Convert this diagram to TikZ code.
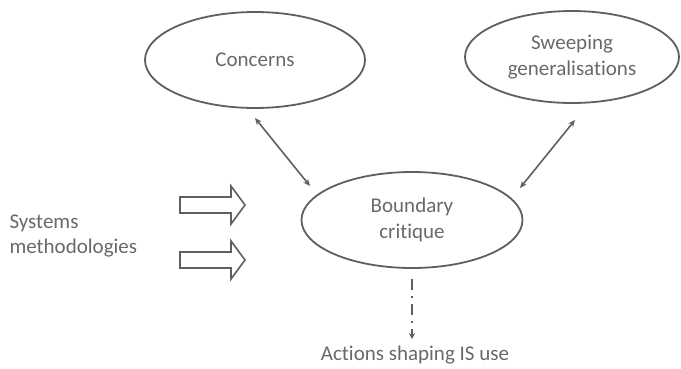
\documentclass[tikz,border=0pt]{standalone}
\usepackage{fontspec}
\setmainfont[Ligatures={NoCommon}]{Carlito}
\usetikzlibrary{shapes.geometric,arrows.meta}
\definecolor{inkgray}{RGB}{95,95,95}
\definecolor{textgray}{RGB}{105,105,105}
\begin{document}
\begin{tikzpicture}[x=1pt,y=-1pt,
  every node/.style={font=\fontsize{21}{25.5}\selectfont, text=textgray},
  oval/.style={ellipse, draw=inkgray, line width=1.8pt, inner sep=0pt, align=center},
  link/.style={draw=inkgray, line width=1.6pt, {Stealth[length=7pt,width=6pt]}-{Stealth[length=7pt,width=6pt]}},
  blockarrow/.pic={
    % hollow right-pointing block arrow, left end at the origin
    \draw[draw=inkgray, line width=1.6pt, line join=miter]
      (0,-8) -- (51,-8) -- (51,-19) -- (65,0) -- (51,19) -- (51,8) -- (0,8) -- cycle;
  },
  outflow/.style={draw=inkgray, line width=1.6pt, dash pattern=on 11pt off 6pt on 2pt off 6pt,
    -{Stealth[length=6pt,width=6pt]}}]
\useasboundingbox (0,0) rectangle (681,368);

% the three issues
\node[oval, minimum width=220pt, minimum height=96pt] (conc) at (255,60) {Concerns};
\node[oval, minimum width=214pt, minimum height=92pt] (sweep) at (572,57) {Sweeping\\generalisations};
\node[oval, minimum width=221pt, minimum height=96pt] (bound) at (412,220) {Boundary\\critique};

% two-way links to boundary critique
\coordinate (c1) at (255,118);
\coordinate (c2) at (310,186);
\coordinate (s1) at (575,120);
\coordinate (s2) at (520,188);
\draw[link] (c1) -- (c2);
\draw[link] (s1) -- (s2);

% systems methodologies feeding in
\node[anchor=west, align=left] (meth) at (6,236) {Systems\\methodologies};
\pic at (180,205) {blockarrow};
\pic at (180,260) {blockarrow};

% outcome
\node (act) at (415,355) {Actions shaping IS use};
\coordinate (o1) at (412,279);
\coordinate (o2) at (412,339);
\draw[outflow] (o1) -- (o2);
\end{tikzpicture}
\end{document}
